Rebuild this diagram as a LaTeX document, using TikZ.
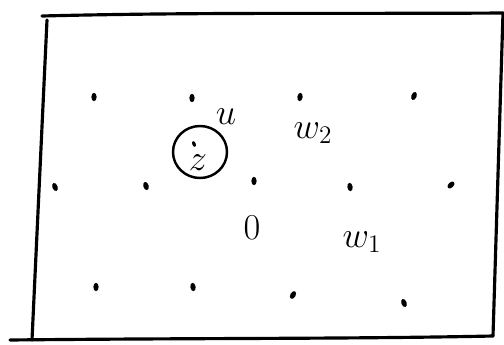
\documentclass[tikz,border=0pt]{standalone}
\usepackage{amsmath,amssymb}
\usetikzlibrary{shapes.geometric}

\begin{document}
\begin{tikzpicture}[
  x=0.02cm, y=-0.02cm,
  pt/.style={ellipse, fill, inner sep=0pt, minimum width=3pt, minimum height=4.8pt},
  lbl/.style={inner sep=0pt, font=\huge},
  frame/.style={line width=1.8pt, line cap=round}
]
\useasboundingbox (0,0) rectangle (504,345);

% frame
\draw[frame] (42,16) .. controls (200,12) and (350,14) .. (503,13);
\draw[frame] (47,20) -- (32,340);
\draw[frame] (10,340) .. controls (200,338) and (350,339) .. (493,336);
\draw[frame] (503,13) -- (493,336);

% lattice points
\node[pt] (a1) at (94,97) {};
\node[pt] (a2) at (192,98) {};
\node[pt, rotate=-10] (a3) at (300,97) {};
\node[pt, rotate=-20] (a4) at (414,96) {};
\node[pt, rotate=20] (b1) at (55,187) {};
\node[pt, rotate=15] (b2) at (146,186) {};
\node[pt] (b3) at (254,181) {};
\node[pt, rotate=10] (b4) at (350,187) {};
\node[pt, rotate=-45] (b5) at (451,185) {};
\node[pt] (c1) at (96,287) {};
\node[pt, rotate=10] (c2) at (193,287) {};
\node[pt, rotate=-30] (c3) at (293,295) {};
\node[pt, rotate=20] (c4) at (404,303) {};

% the point z
\node[pt, minimum width=2pt, minimum height=3.4pt, rotate=20] (zdot) at (194,144) {};
\node[lbl] (z) at (198,163) {$z$};
\draw[line width=1.4pt] (200,152) ellipse (27 and 26);

% labels
\node[lbl] (u) at (226,117) {$u$};
\node[lbl] (w2) at (313,133) {$w_2$};
\node[lbl] (orig) at (252,228) {$0$};
\node[lbl] (w1) at (362,242) {$w_1$};
\end{tikzpicture}
\end{document}
